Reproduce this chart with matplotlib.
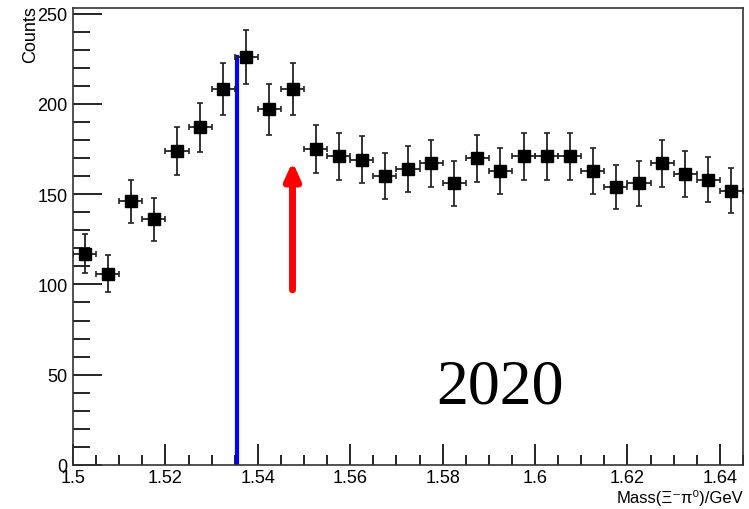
import matplotlib
matplotlib.use("Agg")
import matplotlib.pyplot as plt
from matplotlib.ticker import MultipleLocator

mass = [1.5025, 1.5075, 1.5125, 1.5175, 1.5225, 1.5275, 1.5325, 1.5375, 1.5425, 1.5475,
        1.5525, 1.5575, 1.5625, 1.5675, 1.5725, 1.5775, 1.5825, 1.5875, 1.5925, 1.5975,
        1.6025, 1.6075, 1.6125, 1.6175, 1.6225, 1.6275, 1.6325, 1.6375, 1.6425]
counts = [117, 106, 146, 136, 174, 187, 208, 226, 197, 208,
          175, 171, 169, 160, 164, 167, 156, 170, 163, 171,
          171, 171, 163, 154, 156, 167, 161, 158, 152]
errors = [10.8, 10.3, 12.1, 11.7, 13.2, 13.7, 14.4, 15.0, 14.0, 14.4,
          13.2, 13.1, 13.0, 12.6, 12.8, 12.9, 12.5, 13.0, 12.8, 13.1,
          13.1, 13.1, 12.8, 12.4, 12.5, 12.9, 12.7, 12.6, 12.3]
bin_half = 0.0025
blue_line_x = 1.5355
blue_line_top = 226
arrow_x = 1.5475
arrow_base = 97
arrow_tip = 168

fig = plt.figure(figsize=(7.49, 5.10), dpi=100)
ax = fig.add_axes([0.0975, 0.0863, 0.8945, 0.8957])

ax.errorbar(mass, counts, yerr=errors, xerr=bin_half, fmt='s', color='black',
            ecolor='#222222', elinewidth=1.3, capsize=2.5, capthick=1.2,
            markersize=8.5, zorder=3)

ax.plot([blue_line_x, blue_line_x], [0, blue_line_top], color='#0000ff', lw=3, zorder=2)
ax.annotate('', xy=(arrow_x, arrow_tip), xytext=(arrow_x, arrow_base),
            arrowprops=dict(arrowstyle='-|>,head_width=0.45,head_length=1.0',
                            color='#ff0000', lw=5, shrinkA=0, shrinkB=0))

ax.text(1.5925, 43, '2020', family='Liberation Serif', fontsize=46,
        ha='center', va='center', color='black')

ax.set_xlim(1.5, 1.645)
ax.set_ylim(0, 253)
ax.xaxis.set_minor_locator(MultipleLocator(0.005))
ax.yaxis.set_major_locator(MultipleLocator(50))
ax.yaxis.set_minor_locator(MultipleLocator(10))
ax.set_xticks([1.5, 1.52, 1.54, 1.56, 1.58, 1.6, 1.62, 1.64])
ax.set_xticklabels(['1.5', '1.52', '1.54', '1.56', '1.58', '1.6', '1.62', '1.64'])
ax.tick_params(axis='both', which='both', direction='in', top=False, right=False,
               labelsize=13, width=1.2)
ax.tick_params(axis='x', which='major', length=15, pad=3)
ax.tick_params(axis='x', which='minor', length=7)
ax.tick_params(axis='y', which='major', length=21, pad=4)
ax.tick_params(axis='y', which='minor', length=12)
for lab in ax.get_xticklabels() + ax.get_yticklabels():
    lab.set_family('Liberation Sans')
for s in ax.spines.values():
    s.set_linewidth(1.2)
    s.set_color('#333333')

fig.text(0.041, 0.988, 'Counts', rotation=90, ha='center', va='top',
         family='Liberation Sans', fontsize=13)
fig.text(0.992, 0.008, 'Mass(Ξ\u207bπ\u2070)/GeV', ha='right', va='bottom',
         family=['Liberation Sans', 'DejaVu Sans'], fontsize=12)

fig.savefig('out.png', dpi=100)
